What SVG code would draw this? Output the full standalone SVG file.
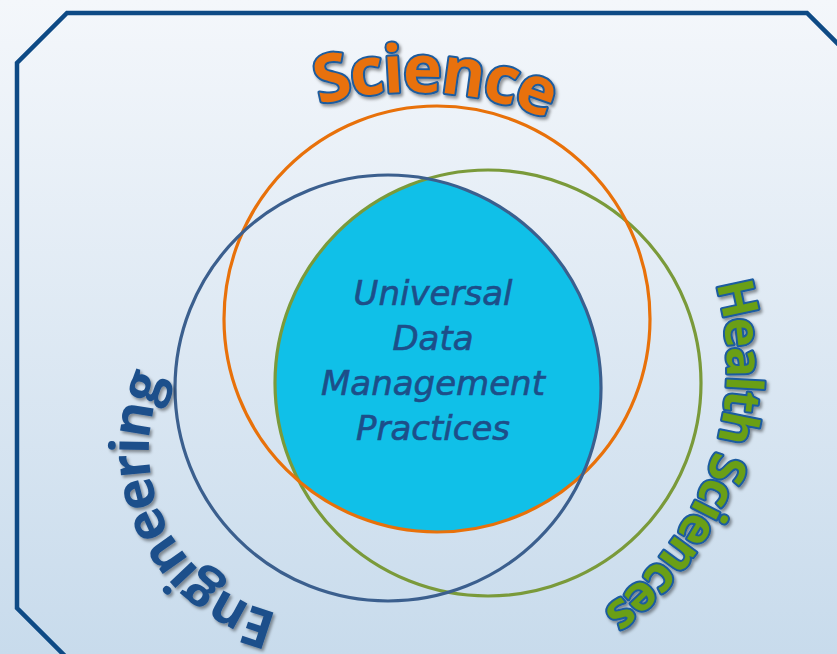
<svg xmlns="http://www.w3.org/2000/svg" width="837" height="654" viewBox="0 0 837 654">
<defs>
<linearGradient id="bg" x1="0" y1="0" x2="0" y2="1">
<stop offset="0" stop-color="#F4F7FB"/>
<stop offset="1" stop-color="#C8DBEC"/>
</linearGradient>
<clipPath id="clipBlue"><circle cx="388" cy="388" r="213"/></clipPath>
<clipPath id="clipOrange"><circle cx="437" cy="319" r="213"/></clipPath>
<filter id="shadow" x="-20%" y="-20%" width="140%" height="140%">
<feDropShadow dx="2" dy="2.5" stdDeviation="1.8" flood-color="#000" flood-opacity="0.4"/>
</filter>
<path id="arcScience" d="M120,249.8 A351,351 0 0 1 726.9,285.8" fill="none"/>
<path id="arcHealth" d="M614.3,128.8 A304,304 0 0 1 428.3,669" fill="none"/>
<path id="arcEng" d="M415.7,585.9 A168,168 0 1 1 270.7,288.5" fill="none"/>
</defs>
<style>
.ring{fill:none;stroke-width:3.2}
.wa{font-family:"Open Sans","Noto Sans",sans-serif;font-weight:bold;paint-order:stroke;stroke-linejoin:round}
.center{font-family:"DejaVu Sans","Liberation Sans",sans-serif;font-style:italic;font-size:34px;fill:#1D4E89;stroke:#1D4E89;stroke-width:0.6;text-anchor:middle}
</style>
<rect width="837" height="654" fill="url(#bg)"/>
<polyline points="70,661 17,608 17,63 67,13 807,13 850,56" fill="none" stroke="#0E4A85" stroke-width="4.5"/>
<g id="intersection" clip-path="url(#clipOrange)">
<circle cx="488" cy="383" r="213" fill="#10C0E8" clip-path="url(#clipBlue)"/>
</g>
<g id="circles">
<circle id="health-circle" class="ring" cx="488" cy="383" r="213" stroke="#7A9A3A"/>
<circle id="science-circle" class="ring" cx="437" cy="319" r="213" stroke="#E8710A"/>
<circle id="engineering-circle" class="ring" cx="388" cy="388" r="213" stroke="#3B5F8E"/>
</g>
<g id="science-label" filter="url(#shadow)">
<text class="wa" font-size="66" fill="#E8710C" stroke="#1F5C9E" stroke-width="4" letter-spacing="-2"><textPath href="#arcScience" startOffset="50%" text-anchor="middle">Science</textPath></text>
</g>
<g id="health-label" filter="url(#shadow)">
<text class="wa" font-size="50" fill="#6A9F12" stroke="#1B5BA0" stroke-width="4" letter-spacing="-1.7"><textPath href="#arcHealth" startOffset="50%" text-anchor="middle">Health Sciences</textPath></text>
</g>
<g id="engineering-label" filter="url(#shadow)">
<text class="wa" font-size="54" fill="#1D4F8B" letter-spacing="-2"><textPath href="#arcEng" startOffset="50%" text-anchor="middle">Engineering</textPath></text>
</g>
<g id="center-label">
<text class="center" x="433" y="305">Universal</text>
<text class="center" x="433" y="350">Data</text>
<text class="center" x="433" y="395">Management</text>
<text class="center" x="433" y="440">Practices</text>
</g>
</svg>
